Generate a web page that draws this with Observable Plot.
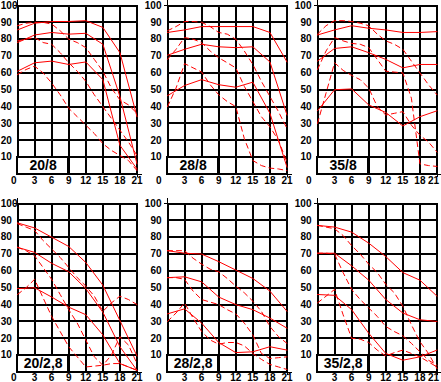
<!DOCTYPE html>
<html><head><meta charset="utf-8">
<script src="https://cdn.jsdelivr.net/npm/d3@7"></script>
<script src="https://cdn.jsdelivr.net/npm/@observablehq/plot@0.6"></script>
<style>
html,body{margin:0;padding:0;background:#fff;overflow:hidden;}
#chart{position:relative;width:441px;height:382px;overflow:hidden;background:#fff;}
#chart svg{position:absolute;}
</style></head><body><div id="chart"></div>
<script>
const panelLabels = ["20/8", "28/8", "35/8", "20/2,8", "28/2,8", "35/2,8"];
const daysSolid = [0, 3, 6, 9, 12, 15, 18, 21];
const daysDashed = [0, 1.5, 3, 4.5, 6, 7.5, 9, 10.5, 12, 13.5, 15, 16.5, 18, 19.5, 21];
const xTicks = [0, 3, 6, 9, 12, 15, 18, 21];
const yTicks = [0, 10, 20, 30, 40, 50, 60, 70, 80, 90, 100];
const xTickLabels = [0, 3, 6, 9, 12, 15, 18, 21];
const yTickLabels = [10, 20, 30, 40, 50, 60, 70, 80, 90, 100];

// solid series (values at daysSolid)
const solid_20_8 = [
  [85.5, 89.5, 90.5, 90.5, 91, 87, 72, 34],
  [78, 82.5, 84, 83, 83.5, 77, 46, 6],
  [61, 66, 67, 65, 66.5, 56, 17, 3]
];
const solid_28_8 = [
  [84, 85.5, 87.5, 87.5, 87.5, 87.5, 84, 66.5],
  [70.5, 74, 77, 75.5, 75, 75.5, 66.5, 35],
  [46.5, 52.5, 56, 53, 51.5, 54.5, 36, 4]
];
const solid_35_8 = [
  [82.5, 85.5, 88, 86.5, 85.5, 84, 84, 84.5],
  [67, 74.5, 75.5, 72, 68, 63, 65, 65],
  [37.5, 50, 50.5, 41, 36.5, 28.5, 34, 37.5]
];
const solid_20_28 = [
  [88.5, 85.5, 80, 74.5, 65, 51.5, 30.5, 9.5],
  [74, 71, 64.5, 59.5, 49.5, 35.5, 15, 1],
  [49.5, 50, 44.5, 38.5, 34, 22, 5, 1]
];
const solid_28_28 = [
  [72, 70.5, 70, 65.5, 60.5, 55.5, 48, 36],
  [56, 56.5, 53.5, 44.5, 40, 37, 32, 26],
  [34.5, 37.5, 29, 17.5, 11.5, 12, 15, 13]
];
const solid_35_28 = [
  [87, 86, 83, 76.5, 68.5, 59, 54.5, 45],
  [70.5, 70.5, 63, 54.5, 43, 35, 31, 30],
  [46, 45.5, 37, 23, 11, 7, 9, 13]
];

// dashed series (values at daysDashed)
const dashed_20_8 = [
  [88, 89.5, 90, 90, 89, 85, 80, 78, 75, 68, 61, 51, 44, 41, 36],
  [79, 80, 81, 78, 77, 72, 66, 61, 55, 47, 40, 33, 26, 19, 11],
  [59, 62, 64, 60, 54, 47, 39, 34, 29, 24, 18, 14, 11, 8, 2]
];
const dashed_28_8 = [
  [85, 87.5, 90.5, 90.5, 90, 87.5, 84, 83, 80, 73, 65, 55, 46, 37, 27],
  [68, 74, 81, 80, 78, 73, 69, 66, 63, 52, 43, 34, 28, 20, 7],
  [40, 51, 65.5, 63, 60.5, 53, 47, 43, 40, 21, 8, 5, 3.5, 3, 2]
];
const dashed_35_8 = [
  [83, 88, 91, 91, 90.5, 89.5, 88, 83, 79, 77, 74, 67, 60, 53, 47],
  [62, 73, 81, 79, 77.5, 77, 75, 68, 61, 60.5, 60, 45, 6, 5, 4.5],
  [30, 48, 66, 61.5, 58.5, 56, 51, 40, 35, 36, 37, 29, 23, 19, 13]
];
const dashed_20_28 = [
  [88, 86, 84, 78, 73, 68, 62, 56, 51, 45, 36, 41, 45, 43, 40],
  [74, 72, 69, 62, 55, 46, 37, 29, 19, 9, 4, 10, 21, 16, 5],
  [46, 50, 55, 44, 33, 24, 15, 9, 3, 3.5, 4, 5, 5, 3, 1]
];
const dashed_28_28 = [
  [72, 72, 72, 67.5, 64, 61, 59.5, 55.5, 51, 47, 42, 36, 27, 21, 17],
  [56, 56, 55, 48, 43, 41.5, 40, 37, 34.5, 29, 22, 11, 8, 8.5, 9],
  [30, 35, 41, 32, 24, 19, 16.5, 17.5, 17.5, 15.5, 11, 7.5, 4.5, 3, 1.5]
];
const dashed_35_28 = [
  [87, 86, 85, 81, 75, 70, 64, 59, 52, 47, 39, 28, 18, 11, 2],
  [70.5, 70.5, 70, 59, 49, 43, 38, 33, 27, 24, 21.5, 17, 12, 7, 4],
  [41, 45, 49, 34, 20, 19.5, 17.5, 13, 9.5, 11.5, 13, 11, 9, 6, 3]
];

const solidSets = [solid_20_8, solid_28_8, solid_35_8, solid_20_28, solid_28_28, solid_35_28];
const dashedSets = [dashed_20_8, dashed_28_8, dashed_35_8, dashed_20_28, dashed_28_28, dashed_35_28];

const chart = document.getElementById("chart");
const colLeft = [16.7, 167, 317.3];
const rowTop = [5, 203.3];
const W = 119.5, H = 168.5;
const mL = 20, mR = 8, mT = 8, mB = 14;

function toRows(sets, days) {
  const rows = [];
  sets.forEach((vals, s) => vals.forEach((v, k) => rows.push({s, day: days[k], v})));
  return rows;
}

panelLabels.forEach((label, i) => {
  const col = i % 3, row = Math.floor(i / 3);
  const solidRows = toRows(solidSets[i], daysSolid);
  const dashedRows = toRows(dashedSets[i], daysDashed);
  const xdy = row === 0 ? 6.5 : 5.5;
  // x tick labels: 0 sits at the y label column; last one kept inside the window in the right column
  const xLabMid = xTickLabels.filter(d => d !== 0 && !(col === 2 && d === 21));
  const xLabEnd = col === 2 ? [21] : [];
  const svg = Plot.plot({
    width: mL + W + mR,
    height: mT + H + mB,
    marginLeft: mL, marginRight: mR, marginTop: mT, marginBottom: mB,
    x: {domain: [0, 21], axis: null},
    y: {domain: [0, 100], axis: null},
    style: {fontFamily: "'Liberation Sans', Arial, sans-serif", fontSize: "10px", fontWeight: "bold", background: "transparent", overflow: "visible"},
    marks: [
      Plot.ruleX(xTicks, {stroke: "black", strokeWidth: 2, shapeRendering: "crispEdges"}),
      Plot.ruleY(yTicks, {stroke: "black", strokeWidth: 2, shapeRendering: "crispEdges"}),
      Plot.ruleX([0], {y1: 100, y2: 100, insetTop: -5, stroke: "black", strokeWidth: 1, shapeRendering: "crispEdges"}),
      Plot.ruleY([100], {x1: 0, x2: 0, insetLeft: -3, insetRight: -3, stroke: "black", strokeWidth: 1, shapeRendering: "crispEdges"}),
      Plot.ruleY([0], {x1: 21, x2: 21, insetRight: -5, stroke: "black", strokeWidth: 1, shapeRendering: "crispEdges"}),
      Plot.ruleX([21], {y1: 0, y2: 0, insetTop: -3, insetBottom: -3, stroke: "black", strokeWidth: 1, shapeRendering: "crispEdges"}),
      Plot.line(solidRows, {x: "day", y: "v", z: "s", stroke: "#ff0000", strokeWidth: 1}),
      Plot.line(dashedRows, {x: "day", y: "v", z: "s", stroke: "#ff0000", strokeWidth: 1, strokeDasharray: "5,4"}),
      Plot.rect([label], {x1: 0, x2: 9, y1: 0, y2: 10, fill: "white", stroke: "black", strokeWidth: 2, shapeRendering: "crispEdges"}),
      Plot.text([label], {x: 4.5, y: 5, text: d => d, fontSize: 14, fontWeight: "bold"}),
      Plot.text(xLabMid, {x: d => d, y: 0, dy: xdy, text: d => String(d)}),
      Plot.text(xLabEnd, {x: d => d, y: 0, dy: xdy, dx: 2, textAnchor: "end", text: d => String(d)}),
      Plot.text(yTickLabels, {x: 0, y: d => d, text: d => String(d), dx: col === 0 ? -colLeft[0] : -6, textAnchor: col === 0 ? "start" : "end"}),
      Plot.text([0], {x: d => d, y: d => d, text: d => String(d), dy: xdy, dx: col === 0 ? -1 : -6, textAnchor: "end"})
    ]
  });
  svg.style.left = (colLeft[col] - mL) + "px";
  svg.style.top = (rowTop[row] - mT) + "px";
  chart.appendChild(svg);
});
</script>
</body></html>
